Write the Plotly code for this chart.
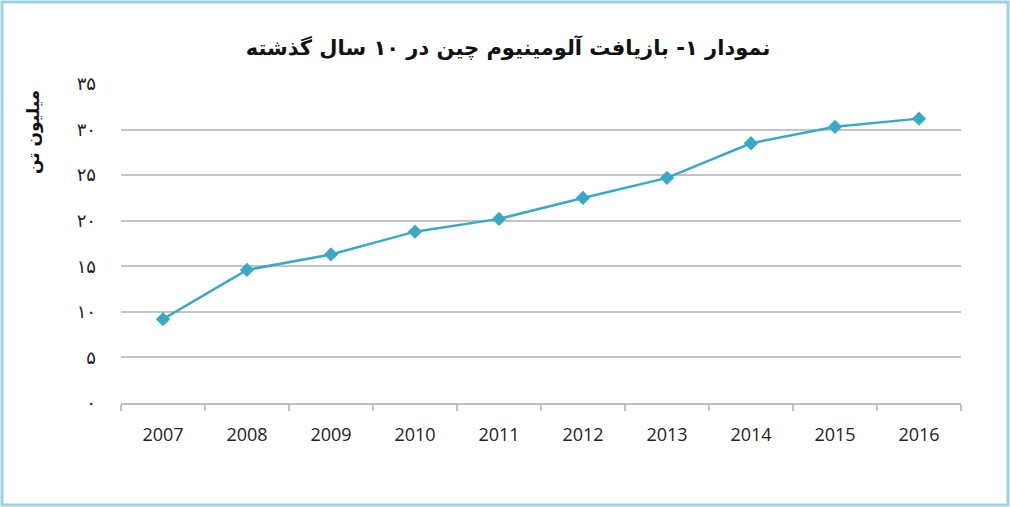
import plotly.graph_objects as go

years = ["2007", "2008", "2009", "2010", "2011", "2012", "2013", "2014", "2015", "2016"]
recycled = [9.2, 14.6, 16.3, 18.8, 20.2, 22.5, 24.7, 28.5, 30.3, 31.2]
ytick_vals = [0, 5, 10, 15, 20, 25, 30, 35]
ytick_text = ["۰", "۵", "۱۰", "۱۵", "۲۰", "۲۵", "۳۰", "۳۵"]

W, H = 1010, 507
L, R, T, B = 121, 49, 84, 104
pw, ph = W - L - R, H - T - B

fig = go.Figure()

fig.add_trace(go.Scatter(
    x=years, y=recycled, mode="lines+markers",
    line=dict(color="#3BA8C6", width=2.5),
    marker=dict(symbol="diamond", size=11, color="#3BA8C6"),
    showlegend=False,
))

fig.update_layout(
    width=W, height=H,
    margin=dict(l=L, r=R, t=T, b=B),
    paper_bgcolor="white", plot_bgcolor="white",
    title=dict(text="<b>نمودار ۱- بازیافت آلومینیوم چین در ۱۰ سال گذشته</b>",
               x=0.503, xanchor="center", y=1 - 48 / H, yanchor="middle",
               font=dict(family="DejaVu Sans", size=21, color="#111111")),
    xaxis=dict(type="category", range=[-0.5, len(years) - 0.5], showgrid=False, showline=True,
               linecolor="#bfbfbf", linewidth=1.5,
               ticks="outside", tickson="boundaries", ticklen=6, tickcolor="#bfbfbf", tickwidth=1.5,
               tickfont=dict(family="Open Sans", size=18, color="#222222"), ticklabelstandoff=15),
    yaxis=dict(range=[0, 35], tickvals=ytick_vals, ticktext=ytick_text, showgrid=True,
               gridcolor="#c4c4c4", gridwidth=1.5, zeroline=False, showline=False,
               tickfont=dict(family="DejaVu Sans", size=18, color="#222222"), ticklabelstandoff=24),
    annotations=[dict(text="<b>میلیون تن</b>", textangle=-90, xref="paper", yref="paper",
                      x=-88 / pw, y=(H - B - 132) / ph, xanchor="center", yanchor="middle",
                      showarrow=False,
                      font=dict(family="DejaVu Sans", size=17, color="#111111"))],
    shapes=[dict(type="rect", xref="paper", yref="paper",
                 x0=-(L - 2) / pw, x1=1 + (R - 2) / pw, y0=-(B - 2) / ph, y1=1 + (T - 2) / ph,
                 line=dict(color="#9ad2e2", width=3))],
)

fig.write_html("out.html", config={"displayModeBar": False},
               post_script="document.body.style.margin='0';")
